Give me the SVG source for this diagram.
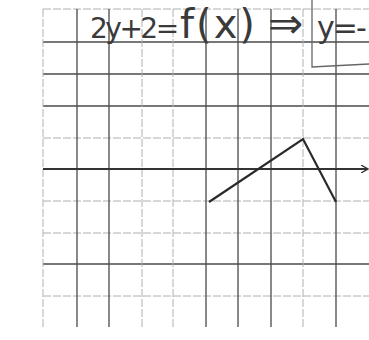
<svg xmlns="http://www.w3.org/2000/svg" width="369" height="340" viewBox="0 0 369 340">
<style>
.d{stroke:#4a4a4a;stroke-width:1.3;fill:none}
.l{stroke:#b0b0b0;stroke-width:1;fill:none;stroke-dasharray:8 2}
.h{font-family:"DejaVu Sans","Liberation Sans",sans-serif;font-size:34px;fill:#3a3a3a;font-weight:normal}
</style>
<defs>
<marker id="ar" markerWidth="8" markerHeight="8" refX="6" refY="4" orient="auto" markerUnits="userSpaceOnUse">
<path d="M0,0 L7,4 L0,8" fill="none" stroke="#333" stroke-width="1.3"/>
</marker>
</defs>
<rect width="369" height="340" fill="#ffffff"/>
<g id="grid">
<line class="l" x1="43" y1="9" x2="369" y2="9"/>
<line class="d" x1="43" y1="42" x2="369" y2="42"/>
<line class="d" x1="43" y1="74" x2="369" y2="74"/>
<line class="d" x1="43" y1="106" x2="369" y2="106"/>
<line class="l" x1="43" y1="138" x2="369" y2="138"/>
<line class="l" x1="43" y1="201" x2="369" y2="201"/>
<line class="l" x1="43" y1="233" x2="369" y2="233"/>
<line class="d" x1="43" y1="264" x2="369" y2="264"/>
<line class="l" x1="43" y1="296" x2="369" y2="296"/>
<line class="l" x1="43" y1="9" x2="43" y2="327"/>
<line class="d" x1="77" y1="9" x2="77" y2="327"/>
<line class="d" x1="109" y1="9" x2="109" y2="327"/>
<line class="l" x1="142" y1="9" x2="142" y2="327"/>
<line class="l" x1="173" y1="9" x2="173" y2="327"/>
<line class="d" x1="206" y1="9" x2="206" y2="327"/>
<line class="d" x1="238" y1="9" x2="238" y2="327"/>
<line class="d" x1="271" y1="9" x2="271" y2="327"/>
<line class="l" x1="303" y1="9" x2="303" y2="327"/>
<line class="d" x1="336" y1="9" x2="336" y2="327"/>
</g>
<g id="connectors">
<line x1="43" y1="169" x2="367" y2="169" stroke="#333" stroke-width="2" marker-end="url(#ar)"/>
<polyline points="209,202 303,139 336,202" fill="none" stroke="#2a2a2a" stroke-width="2.2" stroke-linejoin="miter"/>
<path d="M312,0 L312,67 L369,64" fill="none" stroke="#666" stroke-width="1.3"/>
</g>
<g id="equation">
<text class="h" y="38"><tspan x="90" font-size="28" letter-spacing="-2.5">2y+2=</tspan><tspan x="180" font-size="40" letter-spacing="2">f(x)</tspan><tspan x="268" font-size="42">⇒</tspan><tspan x="317" font-size="30" letter-spacing="-2">y=-</tspan></text>
</g>
</svg>
